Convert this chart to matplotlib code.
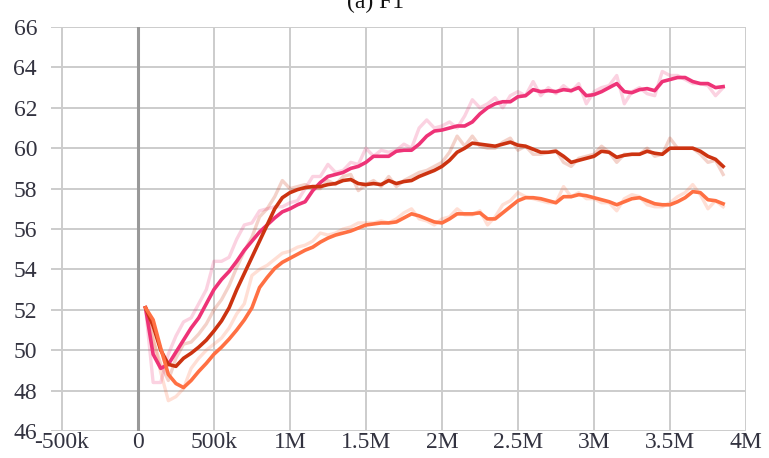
import numpy as np
import matplotlib
matplotlib.use("Agg")
import matplotlib.pyplot as plt

plt.rcParams.update({
    "font.family": ["Liberation Serif", "DejaVu Serif"],
    "font.size": 17,
})

steps = np.arange(50_000, 3_850_001, 50_000)

pink = [52.1, 49.8, 49.1, 49.3, 49.9, 50.5, 51.1, 51.6, 52.3, 53.0,
        53.5, 53.9, 54.4, 54.95, 55.4, 55.85, 56.2, 56.55, 56.85, 57.0,
        57.2, 57.35, 57.9, 58.3, 58.6, 58.7, 58.8, 59.0, 59.1, 59.3,
        59.6, 59.6, 59.6, 59.85, 59.9, 59.9, 60.2, 60.6, 60.85, 60.9,
        61.0, 61.1, 61.1, 61.3, 61.7, 62.0, 62.2, 62.3, 62.3, 62.55,
        62.6, 62.9, 62.8, 62.85, 62.8, 62.9, 62.85, 63.0, 62.6, 62.65,
        62.8, 63.0, 63.2, 62.8, 62.75, 62.9, 62.95, 62.85, 63.3, 63.4,
        63.5, 63.5, 63.3, 63.2, 63.2, 63.0, 63.05]
pink_raw = [52.1, 48.4, 48.4, 49.8, 50.7, 51.4, 51.6, 52.3, 53.0, 54.4,
            54.4, 54.6, 55.5, 56.2, 56.3, 56.9, 57.0, 57.1, 57.1, 57.3,
            57.4, 58.0, 58.6, 58.6, 59.2, 58.8, 58.9, 59.3, 59.2, 60.0,
            59.6, 59.9, 59.8, 59.9, 60.2, 60.0, 61.0, 61.4, 61.0, 61.1,
            61.3, 61.0, 61.6, 62.4, 62.0, 62.2, 62.5, 62.0, 62.6, 62.8,
            62.6, 63.3, 62.6, 63.0, 62.7, 63.1, 62.8, 63.2, 62.2, 62.8,
            63.0, 63.1, 63.6, 62.2, 62.8, 63.0, 62.7, 62.6, 63.8, 63.6,
            63.6, 63.4, 63.2, 63.2, 63.1, 62.6, 63.0]

red = [52.1, 51.2, 50.0, 49.3, 49.2, 49.6, 49.85, 50.15, 50.5, 50.95,
       51.45, 52.1, 53.0, 53.8, 54.6, 55.4, 56.2, 57.0, 57.55, 57.8,
       57.95, 58.05, 58.1, 58.1, 58.2, 58.25, 58.4, 58.45, 58.25, 58.2,
       58.25, 58.2, 58.4, 58.25, 58.35, 58.4, 58.6, 58.75, 58.9, 59.1,
       59.4, 59.8, 60.0, 60.25, 60.2, 60.15, 60.1, 60.2, 60.3, 60.15,
       60.1, 59.95, 59.8, 59.8, 59.85, 59.6, 59.3, 59.4, 59.5, 59.6,
       59.85, 59.8, 59.55, 59.65, 59.7, 59.7, 59.85, 59.75, 59.7, 60.0,
       60.0, 60.0, 60.0, 59.85, 59.6, 59.45, 59.1]
red_raw = [52.1, 50.5, 49.3, 48.5, 49.6, 50.3, 50.4, 50.8, 51.3, 52.0,
           52.5, 53.2, 54.1, 54.9, 55.6, 56.6, 57.0, 57.6, 58.4, 58.0,
           58.1, 58.2, 58.0, 58.0, 58.4, 58.2, 58.6, 58.7, 57.9, 58.2,
           58.4, 58.1, 58.6, 58.1, 58.4, 58.6, 58.8, 58.9, 59.1, 59.3,
           59.8, 60.6, 60.1, 60.6, 60.1, 60.0, 60.0, 60.3, 60.5, 59.9,
           60.1, 59.7, 59.7, 59.8, 59.9, 59.3, 59.1, 59.5, 59.6, 59.7,
           60.1, 59.8, 59.3, 59.7, 59.7, 59.7, 60.0, 59.6, 59.7, 60.5,
           60.0, 60.0, 60.0, 59.7, 59.3, 59.4, 58.7]

orange = [52.1, 51.5, 50.1, 48.8, 48.35, 48.15, 48.5, 48.95, 49.35, 49.8,
          50.15, 50.55, 51.0, 51.5, 52.1, 53.1, 53.6, 54.05, 54.35, 54.55,
          54.75, 54.95, 55.1, 55.35, 55.55, 55.7, 55.8, 55.9, 56.05, 56.2,
          56.25, 56.3, 56.3, 56.35, 56.55, 56.75, 56.65, 56.5, 56.35, 56.3,
          56.5, 56.75, 56.75, 56.75, 56.8, 56.5, 56.5, 56.8, 57.1, 57.4,
          57.55, 57.55, 57.5, 57.4, 57.3, 57.6, 57.6, 57.7, 57.65, 57.55,
          57.45, 57.35, 57.2, 57.35, 57.5, 57.55, 57.4, 57.25, 57.2, 57.2,
          57.35, 57.55, 57.85, 57.8, 57.45, 57.4, 57.25]
orange_raw = [52.1, 50.6, 48.9, 47.5, 47.7, 48.1, 49.1, 49.6, 50.0, 50.3,
              50.6, 51.1, 51.8, 52.3, 53.7, 54.0, 54.2, 54.5, 54.8, 54.9,
              55.1, 55.2, 55.4, 55.8, 55.7, 55.8, 56.0, 56.1, 56.3, 56.3,
              56.3, 56.4, 56.3, 56.5, 56.8, 57.0, 56.5, 56.4, 56.2, 56.5,
              56.6, 57.0, 56.7, 56.7, 56.9, 56.2, 56.6, 57.2, 57.4, 57.8,
              57.6, 57.5, 57.4, 57.3, 57.3, 58.1, 57.6, 57.8, 57.5, 57.5,
              57.3, 57.3, 56.9, 57.5, 57.7, 57.6, 57.2, 57.1, 57.1, 57.3,
              57.6, 57.8, 58.2, 57.7, 57.0, 57.4, 57.1]

x_ticks = [-500_000, 0, 500_000, 1_000_000, 1_500_000, 2_000_000,
           2_500_000, 3_000_000, 3_500_000, 4_000_000]
x_labels = ["-500k", "0", "500k", "1M", "1.5M", "2M", "2.5M", "3M", "3.5M", "4M"]
y_ticks = list(range(46, 67, 2))

series = [
    (pink, pink_raw, "#EE3377"),
    (red, red_raw, "#CC3311"),
    (orange, orange_raw, "#FF7043"),
]

fig = plt.figure(figsize=(7.69, 4.58), dpi=100)
ax = fig.add_axes([0.0663, 0.059, 0.9037, 0.882])

for smooth, raw, color in series:
    ax.plot(steps, raw, color=color, alpha=0.22, linewidth=2.4, zorder=2)
for smooth, raw, color in series:
    ax.plot(steps, smooth, color=color, linewidth=2.6, zorder=3)

ax.axvline(0, color="#999999", linewidth=2.2, zorder=1)

ax.set_xlim(-572_000, 4_000_000)
ax.set_ylim(46, 66)
ax.set_xticks(x_ticks)
ax.set_xticklabels(x_labels)
ax.set_yticks(y_ticks)
ax.grid(True, color="#cccccc", linewidth=1.4, zorder=0)
ax.set_axisbelow(True)
for s in ax.spines.values():
    s.set_visible(False)
ax.tick_params(length=0, colors="#333340", labelsize=17)
ax.tick_params(axis="y", pad=10)
ax.tick_params(axis="x", pad=1)

fig.text(0.488, 0.983, "(a) F1", ha="center", va="baseline", fontsize=17, color="#111111")

fig.savefig("out.png", dpi=100)
